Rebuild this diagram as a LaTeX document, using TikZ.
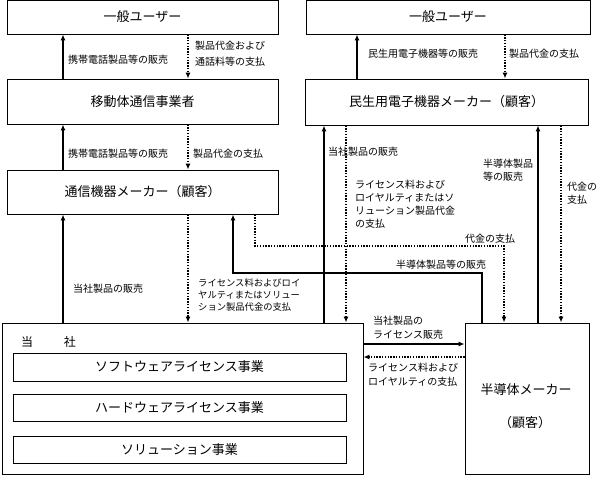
\documentclass[tikz,border=0pt]{standalone}
\usepackage{fontspec}
\setmainfont{Noto Sans CJK JP}
\usetikzlibrary{arrows.meta}
\begin{document}
\begin{tikzpicture}[x=1pt,y=-1pt,
  box/.style={draw, line width=0.9pt, inner sep=0pt, font=\fontsize{13}{15}\selectfont},
  lbl/.style={anchor=west, inner sep=0pt, align=left, font=\fontsize{10}{13}\selectfont},
  sol/.style={line width=1.5pt, -{Latex[length=6pt,width=5pt]}},
  dot/.style={line width=1.3pt, dash pattern=on 1.3pt off 1.5pt, -{Latex[length=6pt,width=5pt]}}]
\useasboundingbox (0,0) rectangle (607,482);
% boxes
\node[box, minimum width=271pt, minimum height=34pt] (u1) at (142.5,17) {一般ユーザー};
\node[box, minimum width=284pt, minimum height=34pt] (u2) at (448,17) {一般ユーザー};
\node[box, minimum width=271pt, minimum height=45pt] (idou) at (142.5,101.5) {移動体通信事業者};
\node[box, minimum width=283pt, minimum height=46pt] (min) at (446.5,102) {民生用電子機器メーカー（顧客）};
\node[box, minimum width=271pt, minimum height=44pt] (tsu) at (142.5,192) {通信機器メーカー（顧客）};
\node[box, minimum width=361pt, minimum height=151pt] (tosha) at (182.5,398.5) {};
\node[box, minimum width=124pt, minimum height=151pt] (han) at (527,398.5) {};
\node[box, minimum width=333pt, minimum height=28pt] (sw) at (179.5,367) {ソフトウェアライセンス事業};
\node[box, minimum width=333pt, minimum height=27pt] (hw) at (179.5,407.5) {ハードウェアライセンス事業};
\node[box, minimum width=333pt, minimum height=27pt] (so) at (179.5,449.5) {ソリューション事業};
\node[inner sep=0pt, font=\fontsize{12}{14}\selectfont] (toshaT) at (48.5,342) {当\hspace{31pt}社};
\node[inner sep=0pt, font=\fontsize{13}{15}\selectfont] (hanT1) at (526,390) {半導体メーカー};
\node[inner sep=0pt, font=\fontsize{13}{15}\selectfont] (hanT2) at (525,423) {（顧客）};
% column / row coordinates
\coordinate (cL1) at (63,0);
\coordinate (cL2) at (188,0);
\coordinate (cL3) at (233,0);
\coordinate (cL4) at (255,0);
\coordinate (cM1) at (324,0);
\coordinate (cM2) at (346,0);
\coordinate (cR0) at (357,0);
\coordinate (cR1) at (482,0);
\coordinate (cR2) at (504,0);
\coordinate (cR2b) at (505,0);
\coordinate (cR3) at (538,0);
\coordinate (cR4) at (561,0);
\coordinate (rS) at (0,273);
\coordinate (rD) at (0,246);
\coordinate (rH1) at (0,344);
\coordinate (rH2) at (0,357);
% connectors left
\draw[sol] (idou.north -| cL1) -- (u1.south -| cL1);
\draw[dot] (u1.south -| cL2) -- (idou.north -| cL2);
\draw[sol] (tsu.north -| cL1) -- (idou.south -| cL1);
\draw[dot] (idou.south -| cL2) -- (tsu.north -| cL2);
\draw[sol] (tosha.north -| cL1) -- (tsu.south -| cL1);
\draw[dot] (tsu.south -| cL2) -- (tosha.north -| cL2);
% cross connectors
\draw[sol] (han.north -| cR1) -- (cR1 |- rS) -- (cL3 |- rS) -- (tsu.south -| cL3);
\draw[dot] (tsu.south -| cL4) -- (cL4 |- rD) -- (cR2 |- rD) -- (han.north -| cR2);
\draw[sol] (tosha.north -| cM1) -- (min.south -| cM1);
\draw[dot] (min.south -| cM2) -- (tosha.north -| cM2);
\draw[sol] (han.north -| cR3) -- (min.south -| cR3);
\draw[dot] (min.south -| cR4) -- (han.north -| cR4);
\draw[sol] (min.north -| cR0) -- (u2.south -| cR0);
\draw[dot] (u2.south -| cR2b) -- (min.north -| cR2b);
\draw[sol] (tosha.east |- rH1) -- (han.west |- rH1);
\draw[dot] (han.west |- rH2) -- (tosha.east |- rH2);
% labels
\node[lbl] (l1) at (68,60) {携帯電話製品等の販売};
\node[lbl, font=\fontsize{10}{16}\selectfont] (l2) at (195,54) {製品代金および\\通話料等の支払};
\node[lbl] (l3) at (68,154) {携帯電話製品等の販売};
\node[lbl] (l4) at (193,154) {製品代金の支払};
\node[lbl] (l5) at (73,289) {当社製品の販売};
\node[lbl, font=\fontsize{9.3}{12}\selectfont] (l6) at (198,295) {ライセンス料およびロイ\\ヤルティまたはソリュー\\ション製品代金の支払};
\node[lbl] (l7) at (368,54) {民生用電子機器等の販売};
\node[lbl] (l8) at (509,54) {製品代金の支払};
\node[lbl] (l9) at (328,152) {当社製品の販売};
\node[lbl] (l10) at (355,204.5) {ライセンス料および\\ロイヤルティまたはソ\\リューション製品代金\\の支払};
\node[lbl] (l11) at (483,170.5) {半導体製品\\等の販売};
\node[lbl] (l12) at (567,193.5) {代金の\\支払};
\node[lbl] (l13) at (465,239) {代金の支払};
\node[lbl] (l14) at (396,265) {半導体製品等の販売};
\node[lbl, font=\fontsize{10}{14}\selectfont] (l15) at (373,328) {当社製品の\\ライセンス販売};
\node[lbl, font=\fontsize{10}{14}\selectfont] (l16) at (368,375) {ライセンス料および\\ロイヤルティの支払};
\end{tikzpicture}
\end{document}
